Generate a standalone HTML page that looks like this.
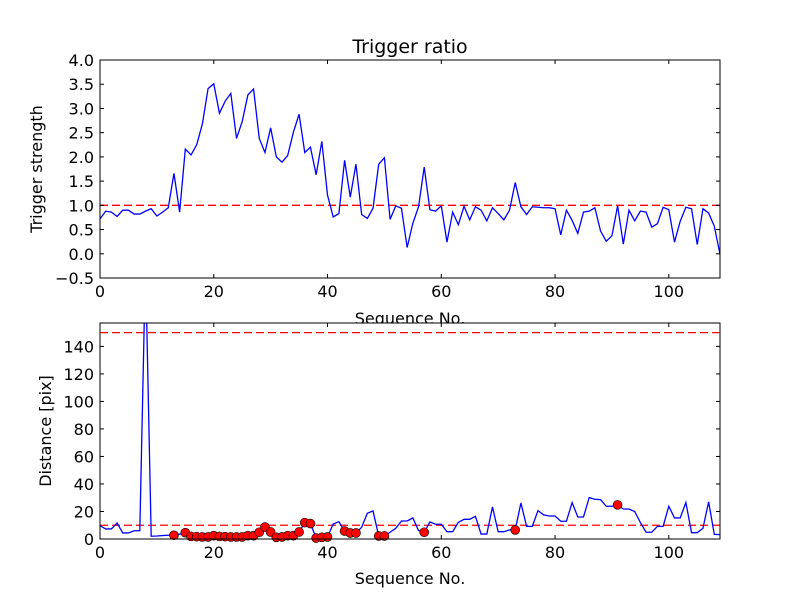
<!DOCTYPE html>
<html><head><meta charset="utf-8"><style>
body{margin:0;background:#fff}
svg{display:block;font-family:"DejaVu Sans","Liberation Sans",sans-serif}
</style></head><body>
<svg id="fig" width="800" height="600" viewBox="0 0 800 600">
<rect width="800" height="600" fill="#fff"/>
</svg>
<script>
const ratioValues=[0.72,0.88,0.86,0.77,0.90,0.90,0.82,0.82,0.88,0.93,0.78,0.86,0.95,1.66,0.86,2.16,2.04,2.25,2.68,3.41,3.51,2.90,3.15,3.31,2.38,2.73,3.28,3.40,2.38,2.09,2.60,2.00,1.89,2.03,2.51,2.88,2.09,2.20,1.63,2.32,1.21,0.76,0.83,1.93,1.17,1.85,0.81,0.73,0.94,1.85,1.98,0.71,0.99,0.94,0.13,0.63,0.97,1.79,0.91,0.88,0.99,0.24,0.86,0.60,0.98,0.70,0.97,0.90,0.68,0.95,0.83,0.70,0.90,1.47,0.97,0.81,0.97,0.96,0.95,0.95,0.93,0.39,0.90,0.69,0.42,0.86,0.88,0.95,0.47,0.26,0.37,0.99,0.20,0.90,0.68,0.88,0.86,0.55,0.62,0.96,0.91,0.24,0.67,0.96,0.93,0.19,0.93,0.84,0.57,-0.01];
const distValues=[9.7,7.3,7.3,11.6,4.4,4.4,6,6,200,2.0,2.2,2.5,2.7,2.7,3.5,4.6,1.9,1.7,1.5,1.5,2.4,1.9,1.7,1.5,1.5,1.5,2.4,2.4,4.9,8.7,5.1,1.2,1.5,2.4,2.4,5.1,11.9,11.2,0.7,1.2,1.5,10.9,12.6,5.8,4.4,4.4,8.5,18.7,20.4,2.2,2.2,4.9,7.8,13.1,13.1,15.3,6.1,4.9,12.4,10.7,10.7,5.3,5.3,12.1,14.3,14.3,16.5,3.6,3.6,23.3,5.3,5.3,6.6,6.6,26.2,9.2,9.2,20.6,17.5,16.7,16.7,12.9,12.9,26.5,16,16,30.1,28.9,28.6,23.8,23.8,24.8,21.8,21.8,20,12,4.9,4.9,9.2,9.2,23.8,15.3,15.3,26.5,4.6,4.6,7.8,27,3.4,3.2];
const markerIdx=[13,15,16,17,18,19,20,21,22,23,24,25,26,27,28,29,30,31,32,33,34,35,36,37,38,39,40,43,44,45,49,50,57,73,91];
const ratioThreshold=[1.0];
const distThresholds=[10,150];
const xTicks=[0,20,40,60,80,100];
const ratioTicks=[-0.5,0,0.5,1.0,1.5,2.0,2.5,3.0,3.5,4.0];
const distTicks=[0,20,40,60,80,100,120,140];

const NS="http://www.w3.org/2000/svg";
const svg=document.getElementById('fig');
function mk(tag,attrs,parent){const e=document.createElementNS(NS,tag);for(const k in attrs)e.setAttribute(k,attrs[k]);(parent||svg).appendChild(e);return e;}
const X0=100,X1=720,XMAX=109;
const sx=v=>X0+v/XMAX*(X1-X0);

function axes(top,bot,ymin,ymax,ticks,fmt,name){
  const sy=v=>bot-(v-ymin)/(ymax-ymin)*(bot-top);
  const g=mk('g',{});
  
  
  const bg=mk('rect',{x:X0,y:top,width:X1-X0,height:bot-top,fill:'#fff'},g);
  
  
  const clipId='clip-'+name;
  const cp=mk('clipPath',{id:clipId},g);
  mk('rect',{x:X0,y:top,width:X1-X0,height:bot-top},cp);
  const plot=mk('g',{'clip-path':'url(#'+clipId+')'},g);
  xTicks.forEach(t=>{
    const x=sx(t);
    const a=mk('line',{x1:x,x2:x,y1:bot,y2:bot-4,stroke:'#000'},g);
    
    
    mk('line',{x1:x,x2:x,y1:top,y2:top+4,stroke:'#000'},g);
    const l=mk('text',{x:x,y:bot+19,'text-anchor':'middle','font-size':'16'},g);
    l.textContent=t;
    
    
  });
  ticks.forEach(t=>{
    const y=sy(t);
    const a=mk('line',{x1:X0,x2:X0+4,y1:y,y2:y,stroke:'#000'},g);
    
    
    mk('line',{x1:X1,x2:X1-4,y1:y,y2:y,stroke:'#000'},g);
    const l=mk('text',{x:X0-6,y:y+6,'text-anchor':'end','font-size':'16'},g);
    l.textContent=fmt(t);
    
    
  });
  return {sy,plot,g,top,bot};
}

// top axes
const A=axes(60,278,-0.5,4.0,ratioTicks,t=>(t<0?'\u2212':'')+Math.abs(t).toFixed(1),'ratio-axes');
ratioThreshold.forEach(v=>{
  const l=mk('line',{x1:X0,x2:X1,y1:A.sy(v),y2:A.sy(v),stroke:'#f00','stroke-width':1.3,'stroke-dasharray':'8,4'},A.plot);
  
  
});
const p1=mk('polyline',{points:ratioValues.map((v,i)=>sx(i)+','+A.sy(v)).join(' '),fill:'none',stroke:'#00f','stroke-width':1.3},A.plot);


mk('rect',{x:X0,y:60,width:X1-X0,height:218,fill:'none',stroke:'#000'},A.g);
const t1=mk('text',{x:410,y:53,'text-anchor':'middle','font-size':'19'});
t1.textContent='Trigger ratio';


const yl1=mk('text',{x:0,y:0,'text-anchor':'middle','font-size':'16',transform:'translate(42,169) rotate(-90)'});
yl1.textContent='Trigger strength';


const xl1=mk('text',{x:410,y:324,'text-anchor':'middle','font-size':'16'});
xl1.textContent='Sequence No.';



// bottom axes
const B=axes(323,539,0,157,distTicks,t=>String(t),'distance-axes');
distThresholds.forEach(v=>{
  const l=mk('line',{x1:X0,x2:X1,y1:B.sy(v),y2:B.sy(v),stroke:'#f00','stroke-width':1.3,'stroke-dasharray':'8,4'},B.plot);
  
  
});
const p2=mk('polyline',{points:distValues.map((v,i)=>sx(i)+','+B.sy(v)).join(' '),fill:'none',stroke:'#00f','stroke-width':1.3},B.plot);


markerIdx.forEach(i=>{
  const c=mk('circle',{cx:sx(i),cy:B.sy(distValues[i]),r:4.5,fill:'#f00',stroke:'#000','stroke-width':0.6},B.g);
  
  
});
mk('rect',{x:X0,y:323,width:X1-X0,height:216,fill:'none',stroke:'#000'},B.g);
const yl2=mk('text',{x:0,y:0,'text-anchor':'middle','font-size':'16',transform:'translate(51,431) rotate(-90)'});
yl2.textContent='Distance [pix]';


const xl2=mk('text',{x:410,y:584,'text-anchor':'middle','font-size':'16'});
xl2.textContent='Sequence No.';


</script>
</body></html>
